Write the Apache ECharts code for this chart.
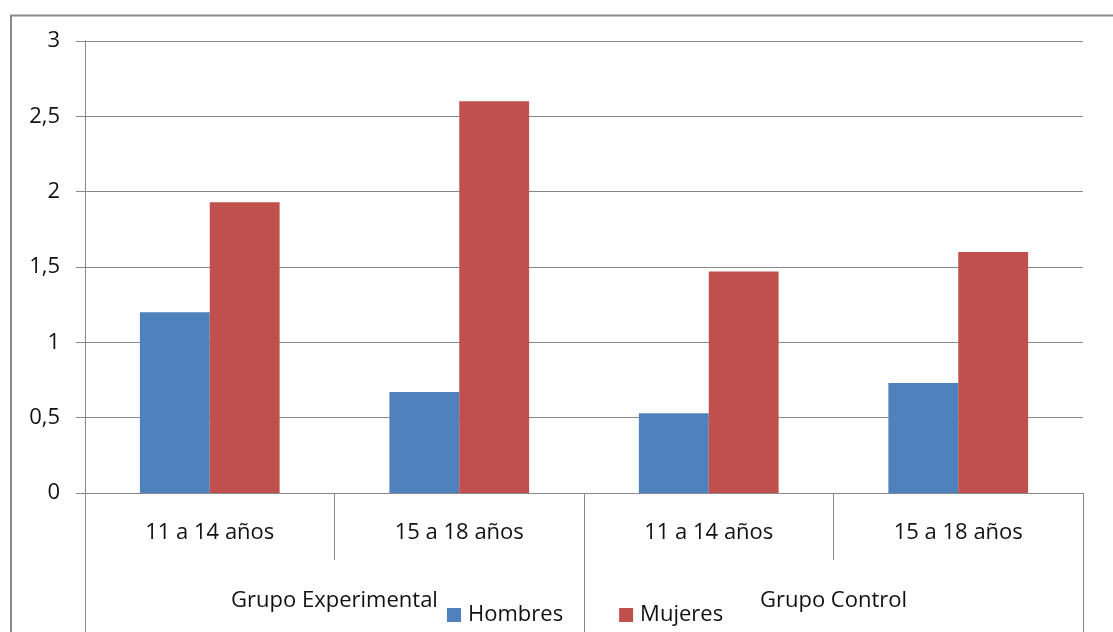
<!DOCTYPE html>
<html>
<head>
<meta charset="utf-8">
<script src="https://cdn.jsdelivr.net/npm/echarts@6/dist/echarts.min.js"></script>
<style>
  html, body { margin: 0; padding: 0; background: #fff; }
  #chart { width: 1113px; height: 632px; }
</style>
</head>
<body>
<div id="chart"></div>
<script>
// Age bands (first row of the category axis) and study groups (second row)
const ageBands = ['11 a 14 años', '15 a 18 años', '11 a 14 años', '15 a 18 años'];
const groups = ['Grupo Experimental', 'Grupo Control'];

// Mean scores by sex
const hombres = [1.2, 0.67, 0.53, 0.73];
const mujeres = [1.93, 2.6, 1.47, 1.6];

const seriesNames = ['Hombres', 'Mujeres'];

const FONT = '"Open Sans", "DejaVu Sans", sans-serif';
const AXIS_GREY = '#888888';
const TEXT = '#111111';

const chart = echarts.init(document.getElementById('chart'), null, { renderer: 'canvas' });

chart.setOption({
  animation: false,
  backgroundColor: '#ffffff',
  textStyle: { fontFamily: FONT },
  graphic: [{
    type: 'rect',
    shape: { x: 11, y: 15.5, width: 1200, height: 700 },
    style: { fill: 'none', stroke: '#8a8a8a', lineWidth: 2 },
    silent: true,
    z: -1
  }],
  grid: { left: 85, right: 30, top: 41, bottom: 139, containLabel: false },
  legend: {
    data: seriesNames,
    left: 442,
    top: 598,
    itemWidth: 14,
    itemHeight: 14,
    itemGap: 56,
    icon: 'rect',
    textStyle: { fontFamily: FONT, fontSize: 22, color: TEXT, lineHeight: 22, padding: [2, 0, 0, 2] }
  },
  xAxis: [
    {
      type: 'category',
      data: ageBands,
      position: 'bottom',
      axisLine: { show: true, lineStyle: { color: AXIS_GREY, width: 1 } },
      axisTick: { show: true, length: 67, lineStyle: { color: AXIS_GREY, width: 1 } },
      axisLabel: { margin: 29, fontFamily: FONT, fontSize: 22, color: TEXT },
      splitLine: { show: false }
    },
    {
      type: 'category',
      data: groups,
      position: 'bottom',
      axisLine: { show: false },
      axisTick: { show: true, length: 139, lineStyle: { color: AXIS_GREY, width: 1 } },
      axisLabel: { margin: 97, fontFamily: FONT, fontSize: 22, color: TEXT },
      splitLine: { show: false }
    }
  ],
  yAxis: {
    type: 'value',
    min: 0,
    max: 3,
    interval: 0.5,
    axisLine: { show: true, lineStyle: { color: AXIS_GREY, width: 1 } },
    axisTick: { show: true, length: 9, lineStyle: { color: AXIS_GREY, width: 1 } },
    axisLabel: {
      margin: 25,
      fontFamily: FONT,
      fontSize: 22,
      color: TEXT,
      formatter: v => String(v).replace('.', ',')
    },
    splitLine: { show: true, lineStyle: { color: AXIS_GREY, width: 1 } }
  },
  series: [
    {
      name: seriesNames[0],
      type: 'bar',
      xAxisIndex: 0,
      data: hombres,
      barWidth: '28%',
      barGap: '0%',
      itemStyle: { color: '#4F81BD' },
      emphasis: { disabled: true }
    },
    {
      name: seriesNames[1],
      type: 'bar',
      xAxisIndex: 0,
      data: mujeres,
      barWidth: '28%',
      barGap: '0%',
      itemStyle: { color: '#C0504D' },
      emphasis: { disabled: true }
    }
  ]
});
</script>
</body>
</html>
